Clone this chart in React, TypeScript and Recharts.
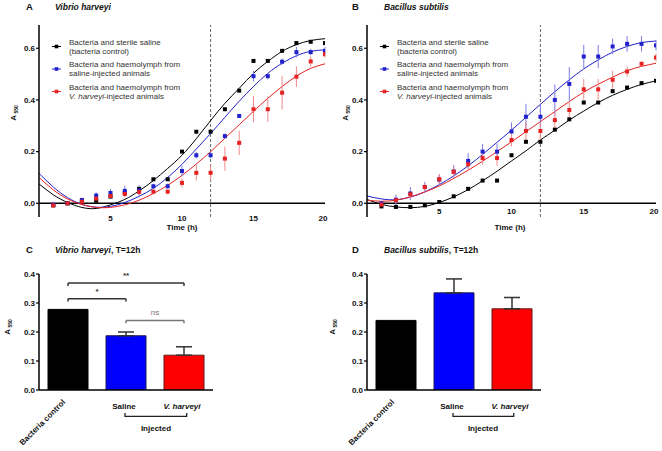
import {
  Bar,
  BarChart,
  Cell,
  ComposedChart,
  ErrorBar,
  Legend,
  Line,
  ReferenceLine,
  Scatter,
  XAxis,
  YAxis,
} from "recharts";

const FONT = '"Liberation Sans", Arial, sans-serif';

// sampling times (h)
const hours = [1, 2, 3, 4, 5, 6, 7, 8, 9, 10, 11, 12, 13, 14, 15, 16, 17, 18, 19, 20];
const fitHours = [0, 1, 2, 3, 4, 5, 6, 7, 8, 9, 10, 11, 12, 13, 14, 15, 16, 17, 18, 19, 20];
const timeTicks = [5, 10, 15, 20];

// A - Vibrio harveyi, measured points
const vhControl = [-0.008, 0.0, 0.008, 0.01, 0.026, 0.04, 0.056, 0.093, 0.093, 0.2, 0.277, 0.277, 0.364, 0.436, 0.551, 0.551, 0.59, 0.62, 0.625, 0.62];
const vhSaline = [-0.005, 0.0, 0.013, 0.03, 0.04, 0.048, 0.05, 0.066, 0.066, 0.125, 0.186, 0.186, 0.26, 0.338, 0.492, 0.492, 0.548, 0.585, 0.585, 0.59];
const vhSalineErr = [0, 0, 0.005, 0.012, 0.015, 0.02, 0.02, 0.01, 0.01, 0.02, 0.012, 0.012, 0.01, 0.008, 0.02, 0.012, 0.012, 0.02, 0.012, 0.015];
const vhVibrio = [-0.008, 0.0, 0.006, 0.018, 0.028, 0.036, 0.044, 0.045, 0.045, 0.079, 0.118, 0.118, 0.173, 0.234, 0.364, 0.364, 0.428, 0.49, 0.549, 0.577];
const vhVibrioErr = [0, 0, 0.005, 0.008, 0.01, 0.012, 0.012, 0.008, 0.008, 0.017, 0.03, 0.03, 0.047, 0.047, 0.05, 0.05, 0.065, 0.04, 0.02, 0.012];
// A - fitted curves
const vhControlFit = [0.075, 0.033, 0.003, -0.016, -0.02, -0.006, 0.015, 0.048, 0.088, 0.135, 0.186, 0.25, 0.32, 0.387, 0.445, 0.503, 0.549, 0.588, 0.614, 0.63, 0.637];
const vhSalineFit = [0.116, 0.063, 0.022, -0.004, -0.015, -0.012, 0.003, 0.027, 0.058, 0.1, 0.151, 0.21, 0.27, 0.333, 0.395, 0.452, 0.503, 0.542, 0.571, 0.588, 0.594];
const vhVibrioFit = [0.1, 0.052, 0.017, -0.005, -0.016, -0.016, -0.006, 0.012, 0.038, 0.07, 0.108, 0.152, 0.2, 0.252, 0.304, 0.356, 0.406, 0.452, 0.492, 0.522, 0.54];

// B - Bacillus subtilis, measured points
const bsControl = [-0.012, -0.014, -0.014, -0.008, 0.005, 0.027, 0.056, 0.088, 0.088, 0.186, 0.238, 0.238, 0.285, 0.325, 0.39, 0.39, 0.434, 0.448, 0.465, 0.474];
const bsSaline = [0.0, 0.014, 0.038, 0.063, 0.092, 0.123, 0.164, 0.2, 0.2, 0.278, 0.335, 0.335, 0.4, 0.462, 0.568, 0.568, 0.607, 0.617, 0.617, 0.611];
const bsSalineErr = [0.005, 0.02, 0.025, 0.02, 0.02, 0.025, 0.03, 0.03, 0.03, 0.035, 0.05, 0.05, 0.06, 0.065, 0.045, 0.045, 0.03, 0.03, 0.03, 0.02];
const bsVibrio = [-0.005, 0.012, 0.035, 0.063, 0.093, 0.122, 0.151, 0.175, 0.175, 0.245, 0.28, 0.28, 0.322, 0.361, 0.441, 0.441, 0.478, 0.51, 0.54, 0.564];
const bsVibrioErr = [0.005, 0.01, 0.015, 0.015, 0.02, 0.02, 0.02, 0.025, 0.03, 0.025, 0.035, 0.035, 0.04, 0.03, 0.04, 0.04, 0.035, 0.02, 0.008, 0.015];
// B - fitted curves
const bsControlFit = [0.015, -0.004, -0.014, -0.017, -0.012, 0.003, 0.025, 0.053, 0.087, 0.124, 0.164, 0.203, 0.245, 0.283, 0.322, 0.357, 0.39, 0.418, 0.441, 0.46, 0.474];
const bsSalineFit = [0.028, 0.017, 0.014, 0.024, 0.044, 0.072, 0.106, 0.145, 0.189, 0.236, 0.283, 0.333, 0.383, 0.432, 0.478, 0.52, 0.555, 0.585, 0.607, 0.622, 0.628];
const bsVibrioFit = [0.012, 0.008, 0.012, 0.025, 0.044, 0.067, 0.096, 0.128, 0.163, 0.2, 0.238, 0.277, 0.316, 0.355, 0.394, 0.43, 0.461, 0.488, 0.513, 0.53, 0.542];

// C / D - T = 12h
const groups = ["Bacteria control", "Saline", "V. harveyi"];
const vh12Mean = [0.278, 0.187, 0.12];
const vh12Err = [0, 0.013, 0.029];
const bs12Mean = [0.24, 0.335, 0.28];
const bs12Err = [0, 0.048, 0.039];

const growthTicks = [0, 0.2, 0.4, 0.6];
const barTicks = [0, 0.1, 0.2, 0.3, 0.4];

const COLORS = {
  control: "#000000",
  saline: "#2222cc",
  vibrio: "#e62222",
  salineErr: "#7b7bea",
  vibrioErr: "#f08a8a",
};

const toPoints = (ys: number[], errs?: number[]) =>
  hours.map((x, i) => ({ x, y: ys[i], err: errs ? errs[i] : 0 }));

const toFitRows = (a: number[], b: number[], c: number[]) =>
  fitHours.map((x, i) => ({ x, control: a[i], saline: b[i], vibrio: c[i] }));

const squareShape = (color: string) => (props: any) => (
  <rect x={props.cx - 2} y={props.cy - 2} width={4} height={4} fill={color} />
);

const timeTick = (dy: number) => (props: any) => (
  <text
    x={props.x}
    y={props.y + dy}
    textAnchor="middle"
    dominantBaseline="central"
    fontSize={8}
    fontWeight="bold"
    fontFamily={FONT}
    fill="#111"
  >
    {props.payload.value}
  </text>
);

const legendItems = [
  { color: COLORS.control, lines: [["Bacteria and sterile saline"], ["(bacteria control)"]] },
  { color: COLORS.saline, lines: [["Bacteria and haemolymph from"], ["saline-injected animals"]] },
  { color: COLORS.vibrio, lines: [["Bacteria and haemolymph from"], ["V. harveyi", "-injected animals"]] },
];

const GrowthLegend = () => (
  <svg width={170} height={70} style={{ display: "block" }}>
    {legendItems.map((item, i) => {
      const base = 5 + i * 22.5;
      return (
        <g key={i}>
          <line x1={5} x2={14} y1={base + 4.5} y2={base + 4.5} stroke={item.color} strokeWidth={1} />
          <rect x={7.7} y={base + 2.7} width={3.6} height={3.6} fill={item.color} />
          {item.lines.map((parts, j) => (
            <text
              key={j}
              x={22}
              y={base + j * 9.2}
              dominantBaseline="central"
              fontSize={8}
              fontFamily={FONT}
              fill="#333"
            >
              {parts.length === 2 ? (
                <>
                  <tspan fontStyle="italic">{parts[0]}</tspan>
                  <tspan>{parts[1]}</tspan>
                </>
              ) : (
                parts[0]
              )}
            </text>
          ))}
        </g>
      );
    })}
  </svg>
);

type GrowthProps = {
  fits: { x: number; control: number; saline: number; vibrio: number }[];
  control: { x: number; y: number; err: number }[];
  saline: { x: number; y: number; err: number }[];
  vibrio: { x: number; y: number; err: number }[];
  left: number;
  tickDy: number;
};

const GrowthChart = ({ fits, control, saline, vibrio, left, tickDy }: GrowthProps) => (
  <ComposedChart
    width={331}
    height={235}
    data={fits}
    margin={{ top: 25, right: 6, bottom: 0, left }}
  >
    <XAxis
      type="number"
      dataKey="x"
      domain={[0, 20]}
      ticks={timeTicks}
      axisLine={false}
      tickLine={false}
      tickSize={0}
      height={18}
      tick={timeTick(tickDy)}
      allowDataOverflow
    />
    <YAxis
      type="number"
      domain={[-0.053, 0.69]}
      ticks={growthTicks}
      tickFormatter={(v: number) => v.toFixed(1)}
      width={30}
      axisLine={{ stroke: "#000", strokeWidth: 1.5 }}
      tickLine={{ stroke: "#000", strokeWidth: 1.2 }}
      tickSize={3}
      tickMargin={1}
      tick={{ fontSize: 8, fontWeight: "bold", fill: "#111", fontFamily: FONT }}
      allowDataOverflow
    />
    <ReferenceLine y={0} stroke="#000" strokeWidth={1.5} />
    <ReferenceLine x={12} stroke="#666" strokeDasharray="3 2" strokeWidth={1} />
    <Line type="natural" dataKey="control" stroke={COLORS.control} strokeWidth={1} dot={false} isAnimationActive={false} />
    <Line type="natural" dataKey="saline" stroke={COLORS.saline} strokeWidth={1} dot={false} isAnimationActive={false} />
    <Line type="natural" dataKey="vibrio" stroke={COLORS.vibrio} strokeWidth={1} dot={false} isAnimationActive={false} />
    <Scatter data={control} dataKey="y" shape={squareShape(COLORS.control)} isAnimationActive={false} />
    <Scatter data={saline} dataKey="y" shape={squareShape(COLORS.saline)} isAnimationActive={false}>
      <ErrorBar dataKey="err" direction="y" width={0} stroke={COLORS.salineErr} strokeWidth={1} />
    </Scatter>
    <Scatter data={vibrio} dataKey="y" shape={squareShape(COLORS.vibrio)} isAnimationActive={false}>
      <ErrorBar dataKey="err" direction="y" width={0} stroke={COLORS.vibrioErr} strokeWidth={1} />
    </Scatter>
    <Legend
      layout="vertical"
      align="center"
      verticalAlign="middle"
      content={() => <GrowthLegend />}
      wrapperStyle={{ left: left + 38, top: 37, width: 170 }}
    />
  </ComposedChart>
);

const groupTick = (shiftX: number) => (props: any) => {
  const { x, y, payload } = props;
  const label = payload.value as string;
  const common = { fontSize: 8, fontWeight: "bold" as const, fontFamily: FONT, fill: "#111" };
  if (label === "Bacteria control") {
    return (
      <text
        transform={`translate(${x + shiftX},${y + 9}) rotate(-45)`}
        textAnchor="end"
        dominantBaseline="central"
        {...common}
      >
        {label}
      </text>
    );
  }
  return (
    <text
      x={x - 2}
      y={y + 14}
      textAnchor="middle"
      dominantBaseline="central"
      fontStyle={label === "V. harveyi" ? "italic" : "normal"}
      {...common}
    >
      {label}
    </text>
  );
};

const barFills = ["#000000", "#0000ff", "#ff0000"];
const barStrokes = ["#000000", "#1c1c55", "#5a1c1c"];

// significance brackets for panel C
const sigBrackets = [
  { from: "Bacteria control", to: "V. harveyi", y: 0.369, label: "**", color: "#333" },
  { from: "Bacteria control", to: "Saline", y: 0.315, label: "*", color: "#333" },
  { from: "Saline", to: "V. harveyi", y: 0.24, label: "ns", color: "#777" },
];

type BarProps = {
  means: number[];
  errs: number[];
  left: number;
  labelShift: number;
  brackets?: typeof sigBrackets;
};

const BarPanel = ({ means, errs, left, labelShift, brackets = [] }: BarProps) => {
  // control bar has no SEM drawn
  const rows = groups.map((group, i) => ({
    group,
    mean: means[i],
    err: errs[i] ? [0, errs[i]] : null,
  }));
  return (
    <BarChart
      width={331}
      height={226}
      data={rows}
      margin={{ top: 49, right: 121 - (left - 6), bottom: 21, left }}
      barSize={40}
    >
      <XAxis
        dataKey="group"
        type="category"
        axisLine={{ stroke: "#000", strokeWidth: 1.5 }}
        tickLine={false}
        tickSize={0}
        height={40}
        tick={groupTick(labelShift)}
        interval={0}
      />
      <YAxis
        type="number"
        domain={[0, 0.4]}
        ticks={barTicks}
        tickFormatter={(v: number) => v.toFixed(1)}
        width={30}
        axisLine={{ stroke: "#000", strokeWidth: 1.5 }}
        tickLine={{ stroke: "#000", strokeWidth: 1.2 }}
        tickSize={3}
        tickMargin={1}
        tick={{ fontSize: 8, fontWeight: "bold", fill: "#111", fontFamily: FONT }}
        allowDataOverflow
      />
      <Bar dataKey="mean" isAnimationActive={false} strokeWidth={1}>
        {rows.map((r, i) => (
          <Cell key={r.group} fill={barFills[i]} stroke={barStrokes[i]} />
        ))}
        <ErrorBar dataKey="err" direction="y" width={8} stroke="#333" strokeWidth={1.5} />
      </Bar>
      {brackets.flatMap((b, i) => [
        <ReferenceLine
          key={`l${i}`}
          segment={[{ x: b.from, y: b.y - 0.01 }, { x: b.from, y: b.y }]}
          stroke={b.color}
          strokeWidth={1.5}
        />,
        <ReferenceLine
          key={`h${i}`}
          segment={[{ x: b.from, y: b.y }, { x: b.to, y: b.y }]}
          stroke={b.color}
          strokeWidth={1.5}
          label={{
            value: b.label,
            position: "top",
            fontSize: 8,
            fontFamily: FONT,
            fill: b.color,
            fontWeight: b.label === "ns" ? "normal" : "bold",
          }}
        />,
        <ReferenceLine
          key={`r${i}`}
          segment={[{ x: b.to, y: b.y }, { x: b.to, y: b.y - 0.01 }]}
          stroke={b.color}
          strokeWidth={1.5}
        />,
      ])}
    </BarChart>
  );
};

const YLabel = ({ x, y }: { x: number; y: number }) => (
  <text transform={`translate(${x},${y}) rotate(-90)`} textAnchor="middle" fontFamily={FONT} fontWeight="bold" fill="#111">
    <tspan fontSize={8}>A</tspan>
    <tspan fontSize={5} dx={1.5} dy={1.5}>550</tspan>
  </text>
);

const Overlay = () => (
  <svg width={662} height={451} style={{ position: "absolute", left: 0, top: 0, pointerEvents: "none" }}>
    <g fontFamily={FONT} fill="#111" fontWeight="bold">
      <text x={26} y={10} fontSize={9.5}>A</text>
      <text x={55} y={10} fontSize={8.5} fontStyle="italic">Vibrio harveyi</text>
      <text x={352} y={10} fontSize={9.5}>B</text>
      <text x={384} y={10} fontSize={8.5} fontStyle="italic">Bacillus subtilis</text>
      <text x={26} y={253} fontSize={9.5}>C</text>
      <text x={55} y={253} fontSize={8.5}>
        <tspan fontStyle="italic">Vibrio harveyi</tspan>, T=12h
      </text>
      <text x={352} y={253} fontSize={9.5}>D</text>
      <text x={384} y={253} fontSize={8.5}>
        <tspan fontStyle="italic">Bacillus subtilis</tspan>, T=12h
      </text>
      <text x={182} y={230} fontSize={8} textAnchor="middle">Time (h)</text>
      <text x={510} y={230} fontSize={8} textAnchor="middle">Time (h)</text>
      <text x={156} y={431} fontSize={8} textAnchor="middle">Injected</text>
      <text x={483} y={431} fontSize={8} textAnchor="middle">Injected</text>
    </g>
    <YLabel x={16} y={113} />
    <YLabel x={348} y={113} />
    <YLabel x={10} y={327} />
    <YLabel x={335} y={327} />
    <path d="M125,413 V416.3 H186.7 V413" fill="none" stroke="#222" strokeWidth={1.3} />
    <path d="M453,413 V416.3 H513.7 V413" fill="none" stroke="#222" strokeWidth={1.3} />
  </svg>
);

export default function App() {
  return (
    <div style={{ position: "absolute", left: 0, top: 0, width: 662, height: 451, background: "#fff", fontFamily: FONT }}>
      <div style={{ position: "absolute", left: 0, top: 0 }}>
        <GrowthChart
          fits={toFitRows(vhControlFit, vhSalineFit, vhVibrioFit)}
          control={toPoints(vhControl)}
          saline={toPoints(vhSaline, vhSalineErr)}
          vibrio={toPoints(vhVibrio, vhVibrioErr)}
          left={9}
          tickDy={-1}
        />
      </div>
      <div style={{ position: "absolute", left: 331, top: 0 }}>
        <GrowthChart
          fits={toFitRows(bsControlFit, bsSalineFit, bsVibrioFit)}
          control={toPoints(bsControl)}
          saline={toPoints(bsSaline, bsSalineErr)}
          vibrio={toPoints(bsVibrio, bsVibrioErr)}
          left={6}
          tickDy={-8}
        />
      </div>
      <div style={{ position: "absolute", left: 0, top: 225 }}>
        <BarPanel means={vh12Mean} errs={vh12Err} left={9} labelShift={-4} brackets={sigBrackets} />
      </div>
      <div style={{ position: "absolute", left: 331, top: 225 }}>
        <BarPanel means={bs12Mean} errs={bs12Err} left={6} labelShift={-3} />
      </div>
      <Overlay />
    </div>
  );
}
